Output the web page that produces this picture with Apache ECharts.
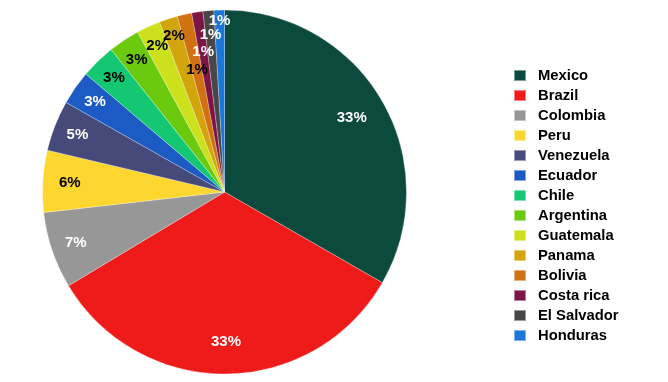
<!DOCTYPE html>
<html><head><meta charset="utf-8">
<script src="https://cdn.jsdelivr.net/npm/echarts@6/dist/echarts.min.js"></script>
<style>html,body{margin:0;padding:0;background:#fff}#c{width:668px;height:382px}</style>
</head><body><div id="c"></div>
<script>
const countries = ["Mexico","Brazil","Colombia","Peru","Venezuela","Ecuador","Chile","Argentina","Guatemala","Panama","Bolivia","Costa rica","El Salvador","Honduras"];
const shares = [33.3,33.1,6.8,5.5,4.5,3.03,3.08,2.78,2.11,1.64,1.28,0.99,0.97,0.93];
const colors = ["#0c4a3d","#ef1b1b","#979797","#fdd630","#454a7a","#1c5bc3","#14c873","#6cca0e","#cde01c","#d3a50d","#d07112","#7d1446","#474747","#1b76d9"];
const labelColors = ["#fff","#fff","#fff","#000","#fff","#fff","#000","#000","#000","#000","#000","#fff","#fff","#fff"];
// radial distance of each percentage label from the pie centre (style, px)
const labelRadius = [144,147,154,152,155,155,156,156,158,161,122,139,155,168];

const CX = 224.5, CY = 192, R = 182;
const chart = echarts.init(document.getElementById('c'));
const font = 'Liberation Sans, Arial, sans-serif';
const series = [{
  type:'pie', center:[CX,CY], radius:[0,R], startAngle:90, clockwise:true,
  label:{show:false}, labelLine:{show:false},
  itemStyle:{borderColor:'rgba(255,255,255,0.45)', borderWidth:0.6},
  emphasis:{disabled:true},
  data:countries.map((n,i)=>({name:n,value:shares[i],itemStyle:{color:colors[i]}}))
}];
[...new Set(labelRadius)].forEach(r=>{
  series.push({
    type:'pie', center:[CX,CY], radius:[r-15,r+15], startAngle:90, clockwise:true, silent:true,
    legendHoverLink:false, avoidLabelOverlap:false,
    labelLayout:{hideOverlap:false},
    itemStyle:{color:'rgba(0,0,0,0)', borderWidth:0},
    label:{show:true, position:'inside', fontFamily:font, fontWeight:'bold', fontSize:15,
      formatter:p=>Math.round(p.value)+'%'},
    labelLine:{show:false},
    emphasis:{disabled:true},
    data:countries.map((n,i)=>({name:n+'\u200b',value:shares[i],
      label:{show:labelRadius[i]===r,color:labelColors[i]}}))
  });
});
chart.setOption({
  animation:false,
  legend:{
    orient:'vertical', left:513, top:68, padding:0,
    icon:'rect', itemWidth:12, itemHeight:11, itemGap:5,
    textStyle:{fontFamily:font, fontWeight:'bold', fontSize:14.8, lineHeight:14, color:'#000', padding:[0,0,0,7]},
    data:countries
  },
  series:series
});
</script></body></html>
